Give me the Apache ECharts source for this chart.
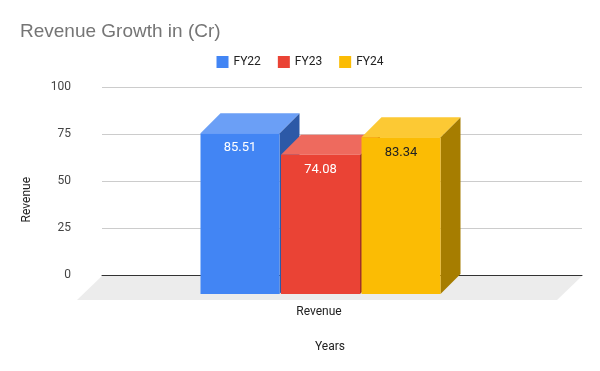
<!DOCTYPE html>
<html>
<head>
<meta charset="utf-8">
<script src="https://cdn.jsdelivr.net/npm/echarts@6/dist/echarts.min.js"></script>
<style>
  html, body { margin: 0; padding: 0; background: #fff; }
  #chart { width: 600px; height: 371px; }
</style>
</head>
<body>
<div id="chart"></div>
<script>
const categories = ['Revenue'];
const seriesNames = ['FY22', 'FY23', 'FY24'];
const fy22 = [85.51];
const fy23 = [74.08];
const fy24 = [83.34];
const yMin = 0, yMax = 100, yStep = 25;

const valuesBySeries = [fy22, fy23, fy24];
const palette = [
  { front: '#4285f4', top: '#6b9ff6', side: '#2c59a7', label: '#ffffff' },
  { front: '#ea4335', top: '#ee6a5e', side: '#a2302a', label: '#ffffff' },
  { front: '#fbbc04', top: '#fcc934', side: '#a67d00', label: '#222222' }
];

const BW = 79, GAP = 1.5, DEPTH = 20, DROP = 19, SHIFT = -21.5;

function makeBarRender(k) {
  return function (params, api) {
    const c = api.coord([api.value(0), 0]);
    const v = api.value(1);
    const h = api.size([0, v])[1];
    const groupW = 3 * BW + 2 * GAP;
    const left = c[0] + SHIFT - groupW / 2 + k * (BW + GAP);
    const bottom = c[1] + DROP;
    const top = bottom - h;
    const p = palette[k];
    return {
      type: 'group',
      children: [
        { type: 'polygon', shape: { points: [[left + BW, top], [left + BW + DEPTH, top - DEPTH], [left + BW + DEPTH, bottom - DEPTH], [left + BW, bottom]] }, style: { fill: p.side } },
        { type: 'polygon', shape: { points: [[left, top], [left + DEPTH, top - DEPTH], [left + BW + DEPTH, top - DEPTH], [left + BW, top]] }, style: { fill: p.top } },
        { type: 'rect', shape: { x: left, y: top, width: BW, height: h }, style: { fill: p.front } },
        { type: 'text', style: { text: v.toFixed(2), x: left + BW / 2, y: top + 15, align: 'center', verticalAlign: 'middle', fill: p.label, font: '13px Roboto, Arial, sans-serif' } }
      ]
    };
  };
}

const barSeries = seriesNames.map(function (name, k) {
  return {
    name: name,
    type: 'custom',
    clip: false,
    z: 3,
    itemStyle: { color: palette[k].front },
    encode: { x: 0, y: 1 },
    data: valuesBySeries[k].map(function (v, i) { return [categories[i], v]; }),
    renderItem: makeBarRender(k)
  };
});

const floorSeries = {
  name: 'floor',
  type: 'custom',
  clip: false,
  silent: true,
  z: 1,
  encode: { x: 0, y: 1 },
  data: [[categories[0], 0]],
  renderItem: function (params, api) {
    const cs = params.coordSys;
    const zy = api.coord([api.value(0), 0])[1] + 1;
    const d = 25;
    return {
      type: 'polygon',
      shape: { points: [[cs.x, zy], [cs.x + cs.width, zy], [cs.x + cs.width - d, zy + d - 1], [cs.x - d, zy + d - 1]] },
      style: { fill: '#ececec' }
    };
  }
};

const chart = echarts.init(document.getElementById('chart'), null, { renderer: 'canvas' });
chart.setOption({
  animation: false,
  backgroundColor: '#ffffff',
  textStyle: { fontFamily: 'Roboto, Arial, sans-serif' },
  title: {
    text: 'Revenue Growth in (Cr)',
    left: 20, top: 22, padding: 0,
    textStyle: { fontSize: 19, fontWeight: 'normal', color: '#757575', fontFamily: '"Liberation Sans", Arial, sans-serif' }
  },
  legend: {
    data: seriesNames,
    top: 56, left: 'center', padding: 0,
    icon: 'rect', itemWidth: 12, itemHeight: 12, itemGap: 17,
    textStyle: { fontSize: 12, color: '#222' }
  },
  grid: { left: 102, right: 18, top: 87, bottom: 96 },
  xAxis: {
    type: 'category',
    data: categories,
    name: 'Years',
    nameLocation: 'middle',
    nameGap: 66,
    nameTextStyle: { fontSize: 12, color: '#222', padding: [0, 24, 0, 0] },
    axisLine: { show: true, lineStyle: { color: '#333', width: 1 } },
    axisTick: { show: false },
    axisLabel: { margin: 31, fontSize: 12, color: '#222', padding: [0, 46, 0, 0] },
    splitLine: { show: false }
  },
  yAxis: {
    type: 'value',
    min: yMin, max: yMax, interval: yStep,
    axisLine: { show: false },
    axisTick: { show: false },
    axisLabel: { margin: 31, fontSize: 12, color: '#444' },
    splitLine: { lineStyle: { color: '#cccccc', width: 1 } }
  },
  graphic: [{
    type: 'text',
    left: 21, top: 177,
    rotation: Math.PI / 2,
    style: { text: 'Revenue', fontSize: 12, fill: '#222', fontFamily: 'Roboto, Arial, sans-serif' }
  }],
  series: [floorSeries].concat(barSeries)
});
</script>
</body>
</html>
